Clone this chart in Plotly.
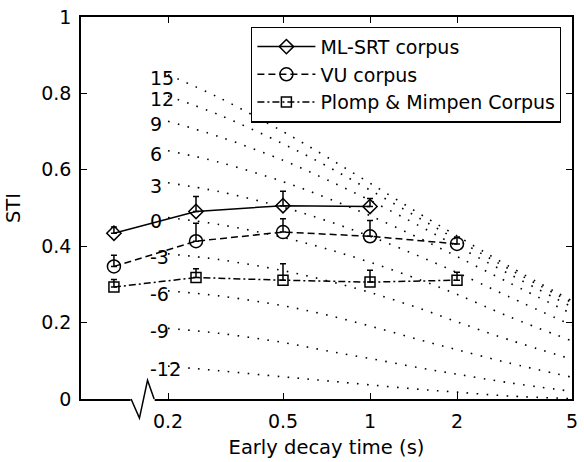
import math
import plotly.graph_objects as go

# ---------------- data ----------------
edt = [0.13, 0.25, 0.5, 1, 2]
ml_srt = [0.434, 0.491, 0.506, 0.504]
ml_srt_err = [0.016, 0.039, 0.038, 0.021]
vu = [0.347, 0.413, 0.437, 0.426, 0.406]
vu_err = [0.029, 0.047, 0.035, 0.041, 0.018]
plomp = [0.293, 0.318, 0.311, 0.306, 0.311]
plomp_err = [0.020, 0.023, 0.043, 0.031, 0.021]

# theoretical STI curves (dotted), one per SNR (dB)
curve_edt = [0.2, 0.3, 0.5, 0.7, 1, 1.5, 2, 3, 5]
snr_labels = ['15', '12', '9', '6', '3', '0', '-3', '-6', '-9', '-12']
sti_p15 = [0.849, 0.789, 0.700, 0.636, 0.565, 0.483, 0.427, 0.349, 0.257]
sti_p12 = [0.793, 0.744, 0.668, 0.612, 0.547, 0.471, 0.417, 0.342, 0.252]
sti_p9 = [0.727, 0.687, 0.625, 0.576, 0.520, 0.451, 0.400, 0.329, 0.241]
sti_p6 = [0.650, 0.620, 0.569, 0.528, 0.480, 0.419, 0.373, 0.306, 0.223]
sti_p3 = [0.566, 0.543, 0.502, 0.468, 0.426, 0.372, 0.331, 0.269, 0.193]
sti_0 = [0.475, 0.457, 0.423, 0.394, 0.358, 0.311, 0.274, 0.217, 0.152]
sti_m3 = [0.380, 0.365, 0.336, 0.311, 0.279, 0.236, 0.202, 0.156, 0.104]
sti_m6 = [0.283, 0.270, 0.244, 0.221, 0.191, 0.154, 0.129, 0.095, 0.057]
sti_m9 = [0.185, 0.172, 0.148, 0.127, 0.106, 0.081, 0.065, 0.043, 0.020]
sti_m12 = [0.086, 0.074, 0.058, 0.048, 0.037, 0.025, 0.018, 0.008, 0.001]
curves = [sti_p15, sti_p12, sti_p9, sti_p6, sti_p3, sti_0, sti_m3, sti_m6, sti_m9, sti_m12]

x_ticks = [0.2, 0.5, 1, 2, 5]
x_ticktext = ['0.2', '0.5', '1', '2', '5']
y_ticks = [0, 0.2, 0.4, 0.6, 0.8, 1]
y_ticktext = ['0', '0.2', '0.4', '0.6', '0.8', '1']

FONT = 'DejaVu Sans'
fig = go.Figure()

for lab, c in zip(snr_labels, curves):
    fig.add_trace(go.Scatter(x=curve_edt, y=c, mode='lines',
        line=dict(color='black', width=1.6, dash='1.6px,8.4px', shape='spline'),
        showlegend=False, hoverinfo='skip'))
    fig.add_annotation(x=math.log10(0.1707), y=c[0], text=lab, showarrow=False,
        xanchor='left', yanchor='middle', yshift=-3, font=dict(family=FONT, size=19, color='black'))

err_style = dict(type='data', color='black', thickness=1.5, width=3)
fig.add_trace(go.Scatter(x=edt[:len(ml_srt)], y=ml_srt, mode='lines+markers', name='ML-SRT corpus',
    line=dict(color='black', width=1.5),
    marker=dict(symbol='diamond-open', size=11, color='black', line=dict(width=1.5)),
    error_y=dict(array=ml_srt_err, arrayminus=[0] * len(ml_srt), **err_style)))
fig.add_trace(go.Scatter(x=edt, y=vu, mode='lines+markers', name='VU corpus',
    line=dict(color='black', width=1.5, dash='7px,4px'),
    marker=dict(symbol='circle-open', size=13, color='black', line=dict(width=1.5)),
    error_y=dict(array=vu_err, arrayminus=[0] * len(vu), **err_style)))
fig.add_trace(go.Scatter(x=edt, y=plomp, mode='lines+markers', name='Plomp & Mimpen Corpus',
    line=dict(color='black', width=1.5, dash='7px,3px,2px,3px'),
    marker=dict(symbol='square-open', size=10, color='black', line=dict(width=1.5)),
    error_y=dict(array=plomp_err, arrayminus=[0] * len(plomp), **err_style)))

# axis break on the x axis
fig.add_shape(type='line', xref='paper', yref='paper', x0=0.101, x1=0.150, y0=0, y1=0,
    line=dict(color='white', width=4), layer='above')
fig.add_shape(type='path', xref='paper', yref='paper',
    path='M 0.102,0 L 0.119,-0.050 L 0.1355,0.049 L 0.149,0',
    line=dict(color='black', width=1.5), layer='above')

fig.update_layout(width=584, height=462, margin=dict(l=81, r=6, t=16, b=63),
    plot_bgcolor='white', paper_bgcolor='white',
    font=dict(family=FONT, size=19, color='black'),
    legend=dict(x=0.978, y=0.975, xanchor='right', yanchor='top', bordercolor='black', borderwidth=1.2,
                bgcolor='white', font=dict(family=FONT, size=19), itemwidth=58, tracegroupgap=0))
fig.update_xaxes(type='log', range=[-1, math.log10(5)], tickvals=x_ticks, ticktext=x_ticktext,
    ticks='inside', ticklen=6, tickwidth=1.2, tickcolor='black', showline=True, linecolor='black', linewidth=1.5,
    mirror='allticks', showgrid=False, zeroline=False, ticklabelstandoff=4,
    title=dict(text='Early decay time (s)', font=dict(family=FONT, size=19.5), standoff=10))
fig.update_yaxes(range=[0, 1], tickvals=y_ticks, ticktext=y_ticktext,
    ticks='inside', ticklen=6, tickwidth=1.2, tickcolor='black', showline=True, linecolor='black', linewidth=1.5,
    mirror='allticks', showgrid=False, zeroline=False, ticklabelstandoff=4,
    title=dict(text='STI', font=dict(family=FONT, size=19.5)))

fig.write_html("out.html", config={'displayModeBar': False})
h = open("out.html", encoding='utf-8').read().replace("<head>", "<head><style>body{margin:0;overflow:hidden}</style>", 1)
open("out.html", "w", encoding='utf-8').write(h)
